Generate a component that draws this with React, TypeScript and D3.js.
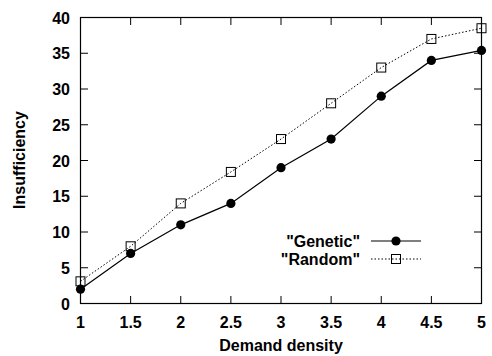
import React from "react";
import * as d3 from "d3";

const densities = [1, 1.5, 2, 2.5, 3, 3.5, 4, 4.5, 5];
const genetic = [2, 7, 11, 14, 19, 23, 29, 34, 35.4];
const randomVals = [3.1, 8, 14, 18.4, 23, 28, 33, 37, 38.5];
const xTicks = [1, 1.5, 2, 2.5, 3, 3.5, 4, 4.5, 5];
const yTicks = [0, 5, 10, 15, 20, 25, 30, 35, 40];

const W = 492, H = 356;
const M = { left: 80.5, right: 481.5, top: 17.5, bottom: 303.5 };
const FONT = "'Liberation Sans', Arial, sans-serif";
const FS = 16;

export default function App() {
  const x = d3.scaleLinear().domain([1, 5]).range([M.left, M.right]);
  const y = d3.scaleLinear().domain([0, 40]).range([M.bottom, M.top]);
  const line = d3.line<number>().x((_, i) => x(densities[i])).y((d) => y(d));
  const tl = 7.5;
  const legY1 = 241, legY2 = 259;
  return (
    <svg width={W} height={H} style={{ position: "absolute", left: 0, top: 0, background: "#fff" }} fontFamily={FONT}>
      <rect x={0} y={0} width={W} height={H} fill="#fff" />
      {xTicks.map((t) => (
        <g key={"x" + t}>
          <line x1={x(t)} x2={x(t)} y1={M.bottom} y2={M.bottom - tl} stroke="#000" strokeWidth={1} />
          <line x1={x(t)} x2={x(t)} y1={M.top} y2={M.top + tl} stroke="#000" strokeWidth={1} />
          <text x={x(t)} y={327.5} textAnchor="middle" fontSize={FS} fontWeight="bold">{t}</text>
        </g>
      ))}
      {yTicks.map((t) => (
        <g key={"y" + t}>
          <line x1={M.left} x2={M.left + tl} y1={y(t)} y2={y(t)} stroke="#000" strokeWidth={1} />
          <line x1={M.right} x2={M.right - tl} y1={y(t)} y2={y(t)} stroke="#000" strokeWidth={1} />
          <text x={70} y={y(t) + 6} textAnchor="end" fontSize={FS} fontWeight="bold">{t}</text>
        </g>
      ))}
      <rect x={M.left} y={M.top} width={M.right - M.left} height={M.bottom - M.top} fill="none" stroke="#000" strokeWidth={1.2} />
      <path d={line(randomVals) || ""} fill="none" stroke="#000" strokeWidth={1} strokeDasharray="1.5,2" />
      <path d={line(genetic) || ""} fill="none" stroke="#000" strokeWidth={1.2} />
      {randomVals.map((v, i) => (
        <rect key={"r" + i} x={x(densities[i]) - 4.5} y={y(v) - 4.5} width={9} height={9} fill="none" stroke="#000" strokeWidth={1} />
      ))}
      {genetic.map((v, i) => (
        <circle key={"g" + i} cx={x(densities[i])} cy={y(v)} r={4.6} fill="#000" />
      ))}
      <text x={360} y={legY1 + 6} textAnchor="end" fontSize={FS} fontWeight="bold">"Genetic"</text>
      <line x1={371} x2={421} y1={legY1} y2={legY1} stroke="#000" strokeWidth={1.2} />
      <circle cx={396} cy={legY1} r={4.6} fill="#000" />
      <text x={360} y={legY2 + 6} textAnchor="end" fontSize={FS} fontWeight="bold">"Random"</text>
      <line x1={371} x2={421} y1={legY2} y2={legY2} stroke="#000" strokeWidth={1} strokeDasharray="1.5,2" />
      <rect x={391.5} y={legY2 - 4.5} width={9} height={9} fill="none" stroke="#000" strokeWidth={1} />
      <text x={281} y={351} textAnchor="middle" fontSize={FS} fontWeight="bold">Demand density</text>
      <text transform={`translate(25,160) rotate(-90)`} textAnchor="middle" fontSize={FS} fontWeight="bold">Insufficiency</text>
    </svg>
  );
}
